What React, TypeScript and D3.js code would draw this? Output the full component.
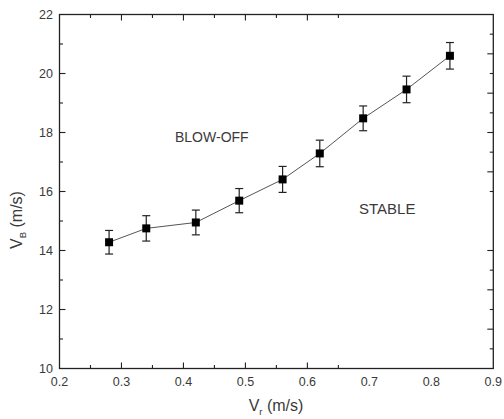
import React from 'react';
import * as d3 from 'd3';

const vr = [0.28, 0.34, 0.42, 0.49, 0.56, 0.62, 0.69, 0.76, 0.83];
const vb = [14.28, 14.75, 14.95, 15.69, 16.41, 17.29, 18.48, 19.46, 20.6];
const errs = [0.4, 0.43, 0.42, 0.41, 0.44, 0.45, 0.42, 0.45, 0.45];
const xTickLabels = [0.2, 0.3, 0.4, 0.5, 0.6, 0.7, 0.8, 0.9];
const xTickMarks = [0.25, 0.3, 0.35, 0.4, 0.45, 0.5, 0.55, 0.6, 0.65];
const yTickLabels = [10, 12, 14, 16, 18, 20, 22];
const yTickMarks = [11, 12, 13, 14, 15, 16, 17, 18, 19, 20, 21];
const rightTickMarks = [0.5, 1, 1.5, 2, 2.5, 3, 3.5, 4, 4.5, 6, 6.5, 7, 7.5, 8, 8.5];

const W = 504, H = 419;
const L = 59.5, R = 493.3, T = 14.5, B = 368.5;

export default function App() {
  const x = d3.scaleLinear().domain([0.2, 0.9]).range([L, R]);
  const y = d3.scaleLinear().domain([10, 22]).range([B, T]);
  const yr = d3.scaleLinear().domain([0, 9]).range([T, B]);
  const line = d3.line<number>().x((_, i) => x(vr[i])).y((d) => y(d));
  const isMajorX = (v: number) => Math.abs(v * 10 - Math.round(v * 10)) < 1e-6;
  const ink = '#222';
  const txt = '#3a3a3a';
  const font = 'Liberation Sans, Arial, sans-serif';
  return (
    <svg width={W} height={H} style={{ position: 'absolute', left: 0, top: 0, background: '#fff' }}>
      <rect x={0} y={0} width={W} height={H} fill="#fff" />
      <rect x={L} y={T} width={R - L} height={B - T} fill="none" stroke={ink} strokeWidth={1.3} />
      {xTickMarks.map((v) => {
        const len = isMajorX(v) ? 6 : 3.5;
        return (
          <g key={'xt' + v}>
            <line x1={x(v)} x2={x(v)} y1={B} y2={B - len} stroke={ink} strokeWidth={1.1} />
            <line x1={x(v)} x2={x(v)} y1={T} y2={T + len} stroke={ink} strokeWidth={1.1} />
          </g>
        );
      })}
      {yTickMarks.map((v) => {
        const len = v % 2 === 0 ? 6 : 3.5;
        return <line key={'yt' + v} x1={L} x2={L + len} y1={y(v)} y2={y(v)} stroke={ink} strokeWidth={1.1} />;
      })}
      {rightTickMarks.map((v) => {
        const len = Number.isInteger(v) ? 6 : 3.5;
        return <line key={'rt' + v} x1={R} x2={R - len} y1={yr(v)} y2={yr(v)} stroke={ink} strokeWidth={1.1} />;
      })}
      {xTickLabels.map((v) => (
        <text key={'xl' + v} x={x(v)} y={385.5} textAnchor="middle" fontSize={12.5} fontFamily={font} fill={txt}>
          {d3.format('.1f')(v)}
        </text>
      ))}
      {yTickLabels.map((v) => (
        <text key={'yl' + v} x={53} y={y(v) + 4.5} textAnchor="end" fontSize={12.5} fontFamily={font} fill={txt}>
          {v}
        </text>
      ))}
      <text x={276} y={411} textAnchor="middle" fontSize={16} fontFamily={font} fill={txt}>
        V<tspan fontSize={9.5} dy={4}>r</tspan>
        <tspan dy={-4}> (m/s)</tspan>
      </text>
      <text transform={`translate(22,220) rotate(-90)`} textAnchor="middle" fontSize={16} fontFamily={font} fill={txt}>
        V<tspan fontSize={9.5} dy={4}>B</tspan>
        <tspan dy={-4}> (m/s)</tspan>
      </text>
      <text x={175} y={142} fontSize={14} fontFamily={font} fill={txt}>BLOW-OFF</text>
      <text x={359} y={214} fontSize={15} fontFamily={font} fill={txt}>STABLE</text>
      <path d={line(vb) || ''} fill="none" stroke="#555" strokeWidth={1} />
      {vb.map((v, i) => {
        const cx = x(vr[i]);
        const y1 = y(v + errs[i]);
        const y2 = y(v - errs[i]);
        return (
          <g key={'e' + i} stroke={ink} strokeWidth={1.2}>
            <line x1={cx} x2={cx} y1={y1} y2={y2} />
            <line x1={cx - 4} x2={cx + 4} y1={y1} y2={y1} />
            <line x1={cx - 4} x2={cx + 4} y1={y2} y2={y2} />
          </g>
        );
      })}
      {vb.map((v, i) => (
        <rect key={'m' + i} x={x(vr[i]) - 4} y={y(v) - 4} width={8} height={8} fill="#000" />
      ))}
    </svg>
  );
}
